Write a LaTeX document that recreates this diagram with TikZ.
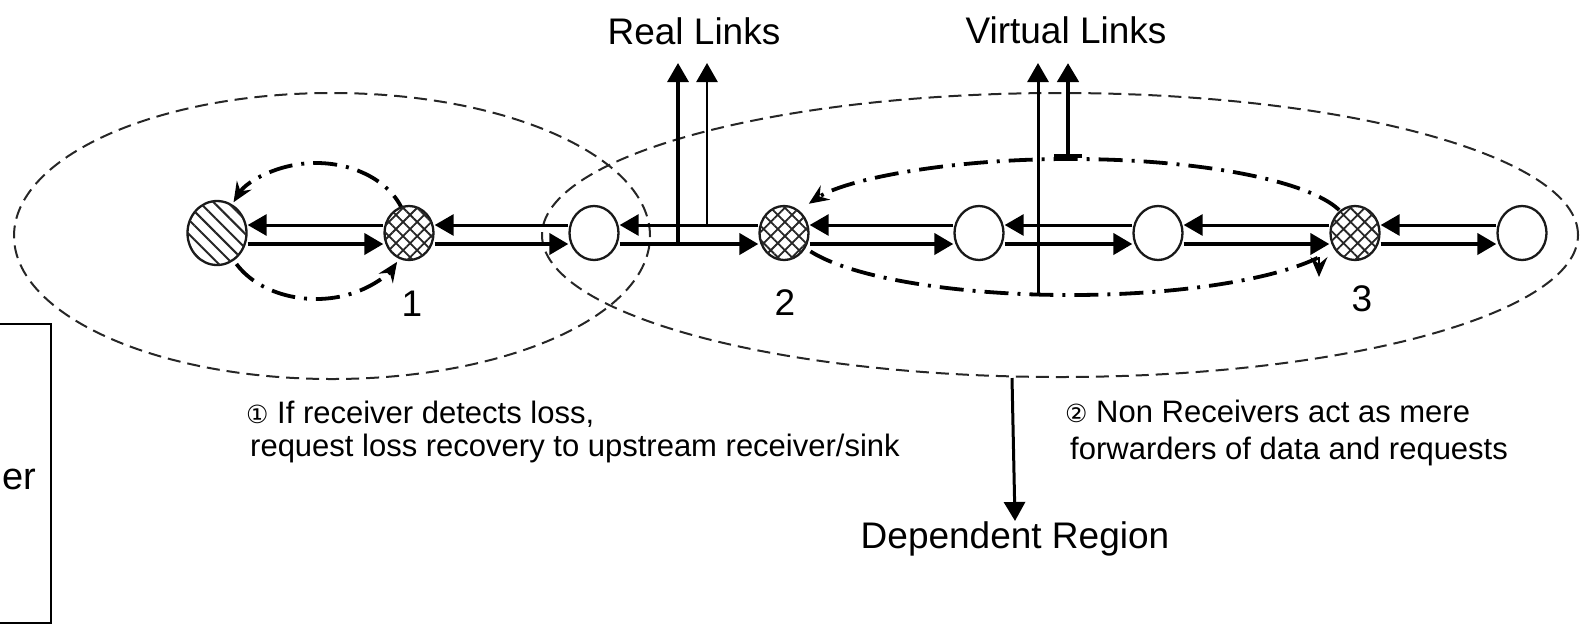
\documentclass[tikz,border=0pt]{standalone}
\usepackage{fontspec}
\setmainfont{Liberation Sans}
\newfontfamily\circfont{DejaVu Sans}
\usetikzlibrary{arrows.meta,shapes.geometric,patterns.meta}

\tikzset{
  relay/.style={ellipse, draw=black!90, line width=2.3pt, fill=white,
    minimum width=49pt, minimum height=54pt, inner sep=0pt},
  sink/.style={relay, minimum width=59pt, minimum height=64pt,
    postaction={pattern={Lines[angle=-45,distance=10pt,line width=2pt]},
                pattern color=black!85}},
  recv/.style={relay,
    postaction={pattern={Hatch[angle=45,distance=10pt,line width=1.8pt]},
                pattern color=black!85}},
  head/.style={-{Triangle[length=19pt,width=21pt]}},
  fwd/.style={head, line width=4pt},
  req/.style={head, line width=3pt},
  region/.style={draw=black!85, line width=2pt, dash pattern=on 13pt off 7pt},
  loopline/.style={line width=3.8pt, dash pattern=on 24pt off 9pt on 3pt off 9pt},
  looptip/.style={-{Stealth[length=20pt,width=17pt,inset=7pt]}},
  lbl/.style={font=\fontsize{37}{40}\selectfont, inner sep=0pt},
  note/.style={font=\fontsize{31}{35}\selectfont, inner sep=0pt, anchor=base west},
  circ/.style={font=\circfont\fontsize{21}{21}\selectfont},
}

\begin{document}
\begin{tikzpicture}[x=1pt, y=1pt]
\useasboundingbox (0,0) rectangle (1581,-625);

% dependent regions
\draw[region] (332,-236) ellipse [x radius=318pt, y radius=143pt];
\draw[region] (1060,-235) ellipse [x radius=518pt, y radius=142pt];

% loss recovery loops
\coordinate (lc) at (316,-231);
\coordinate (rc) at (1070,-227);
\draw[loopline, looptip] ([shift={(12:91pt and 68pt)}]lc)
  arc[start angle=12, end angle=155, x radius=91pt, y radius=68pt];
\draw[loopline, looptip] ([shift={(209:91pt and 68pt)}]lc)
  arc[start angle=209, end angle=333, x radius=91pt, y radius=68pt];
\draw[loopline, looptip] ([shift={(14.5:278pt and 68pt)}]rc)
  arc[start angle=14.5, end angle=160, x radius=278pt, y radius=68pt];
\draw[loopline] ([shift={(201:278pt and 68pt)}]rc)
  arc[start angle=201, end angle=333, x radius=278pt, y radius=68pt];
\coordinate (gt1) at (1319,-257);
\coordinate (gt2) at (1319,-277);
\draw[looptip, line width=2pt] (gt1) -- (gt2);

% nodes of the chain
\node[sink] (A) at (217,-233) {};
\node[recv] (B) at (409,-233) {};
\node[relay] (C) at (594,-233) {};
\node[recv] (D) at (784,-233) {};
\node[relay] (E) at (979,-233) {};
\node[relay] (F) at (1158,-233) {};
\node[recv] (G) at (1355,-233) {};
\node[relay] (H) at (1522,-233) {};

\node[lbl, anchor=base] (n1) at (412,-316) {1};
\node[lbl, anchor=base] (n2) at (785,-315) {2};
\node[lbl, anchor=base] (n3) at (1362,-311) {3};

% data (right) and requests (left)
\foreach \l/\r in {A/B,B/C,C/D,D/E,E/F,F/G,G/H} {
  \draw[req] ([yshift=8pt]\r.west) -- ([yshift=8pt]\l.east);
  \draw[fwd] ([yshift=-11pt]\l.east) -- ([yshift=-11pt]\r.west);
}

% real links
\node[lbl] (real) at (694,-31) {Real Links};
\coordinate (r1a) at (678,-244);
\coordinate (r1b) at (678,-63);
\coordinate (r2a) at (707,-225);
\coordinate (r2b) at (707,-63);
\draw[head, line width=3.2pt] (r1a) -- (r1b);
\draw[head, line width=2.6pt] (r2a) -- (r2b);

% virtual links
\node[lbl] (virt) at (1066,-30) {Virtual Links};
\coordinate (v1a) at (1038,-295);
\coordinate (v1b) at (1038,-63);
\coordinate (v2a) at (1068,-158);
\coordinate (v2b) at (1068,-63);
\draw[head, line width=3pt] (v1a) -- (v1b);
\draw[{Bar[width=28pt]}-{Triangle[length=19pt,width=21pt]}, line width=4.5pt] (v2a) -- (v2b);

% dependent region
\coordinate (da) at (1012,-378);
\node[lbl, anchor=base] (dep) at (1015,-548) {Dependent Region};
\draw[head, line width=3pt] (da) -- (dep.north);

% notes
\node[note] (t1a) at (246,-423) {{\circfont\fontsize{25}{25}\selectfont ①} If receiver detects loss,};
\node[note] (t1b) at (250,-456) {request loss recovery to upstream receiver/sink};
\node[note] (t2a) at (1065,-422) {{\circfont\fontsize{25}{25}\selectfont ②} Non Receivers act as mere};
\node[note] (t2b) at (1070,-459) {forwarders of data and requests};

% legend box
\draw[line width=2.5pt] (-10,-324) -- (51,-324) -- (51,-623) -- (-10,-623);
\node[lbl, font=\fontsize{38}{40}\selectfont, anchor=base east] (leg) at (36,-489) {er};
\end{tikzpicture}
\end{document}
